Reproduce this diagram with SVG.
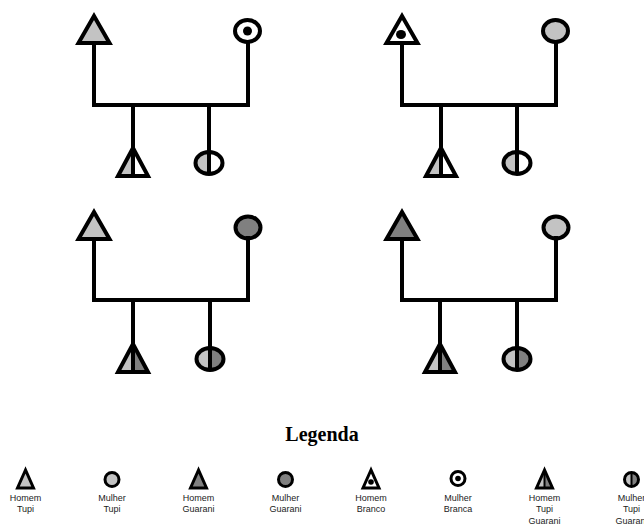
<svg xmlns="http://www.w3.org/2000/svg" width="644" height="525" viewBox="0 0 644 525">
  <style>
    .ln { stroke: #000; stroke-width: 4; fill: none; stroke-linecap: square; }
    .ol { stroke: #000; stroke-width: 4; fill: none; stroke-linejoin: miter; }
    .sol { stroke: #000; stroke-width: 3; fill: none; stroke-linejoin: miter; }
    .tupi { fill: #c3c3c3; }
    .guar { fill: #808080; }
    .wht { fill: #fff; }
    .blk { fill: #000; }
    .ttl { font-family: "Liberation Serif", "Times New Roman", serif; font-weight: bold; font-size: 20px; fill: #000; }
    .lbl { font-family: "Liberation Sans", Arial, sans-serif; font-size: 9px; fill: #222; text-anchor: middle; }
  </style>
  <defs>
    <!-- reusable outlines, centred on x=0 -->
    <polygon id="triBig" points="0,16 -15.5,43 15.5,43"/>
    <polygon id="triKidL" points="0,148 -15,176 0,176"/>
    <polygon id="triKidR" points="0,148 15,176 0,176"/>
    <polygon id="triKid" points="0,148 -15,176 15,176"/>
    <polygon id="triSm" points="0,470 -8,488 8,488"/>
    <polygon id="triSmL" points="0,470 -8,488 0,488"/>
    <polygon id="triSmR" points="0,470 8,488 0,488"/>
  </defs>

  <rect width="644" height="525" fill="#fff"/>

  <!-- Family 1: Homem Tupi + Mulher Branca -->
  <g id="f1-father">
    <use href="#triBig" x="94" class="tupi"/>
    <use href="#triBig" x="94" class="ol"/>
  </g>
  <g id="f1-mother">
    <ellipse cx="247.5" cy="31" rx="12.5" ry="11" class="wht"/>
    <ellipse cx="247.5" cy="31" rx="12.5" ry="11" class="ol"/>
    <circle cx="247.5" cy="31" r="4.5" class="blk"/>
  </g>
  <g id="f1-son">
    <use href="#triKidL" x="133" class="tupi"/>
    <use href="#triKidR" x="133" class="wht"/>
    <use href="#triKid" x="133" class="ol"/>
  </g>
  <g id="f1-daughter">
    <path d="M209,152 A13.5,11 0 0 0 209,174 Z" class="tupi"/>
    <path d="M209,152 A13.5,11 0 0 1 209,174 Z" class="wht"/>
    <ellipse cx="209" cy="163" rx="13.5" ry="11" class="ol"/>
  </g>

  <!-- Family 2: Homem Branco + Mulher Tupi -->
  <g id="f2-father">
    <use href="#triBig" x="402" class="wht"/>
    <use href="#triBig" x="402" class="ol"/>
    <ellipse cx="401" cy="34.5" rx="5" ry="4.5" class="blk"/>
  </g>
  <g id="f2-mother">
    <ellipse cx="555.5" cy="31" rx="12.5" ry="11" class="tupi"/>
    <ellipse cx="555.5" cy="31" rx="12.5" ry="11" class="ol"/>
  </g>
  <g id="f2-son">
    <use href="#triKidL" x="441" class="tupi"/>
    <use href="#triKidR" x="441" class="wht"/>
    <use href="#triKid" x="441" class="ol"/>
  </g>
  <g id="f2-daughter">
    <path d="M517,152 A13.5,11 0 0 0 517,174 Z" class="tupi"/>
    <path d="M517,152 A13.5,11 0 0 1 517,174 Z" class="wht"/>
    <ellipse cx="517" cy="163" rx="13.5" ry="11" class="ol"/>
  </g>

  <!-- Family 3: Homem Tupi + Mulher Guarani -->
  <g id="f3-father" transform="translate(0,196)">
    <use href="#triBig" x="94" class="tupi"/>
    <use href="#triBig" x="94" class="ol"/>
  </g>
  <g id="f3-mother" transform="translate(0,196)">
    <ellipse cx="248" cy="31.5" rx="12.5" ry="11" class="guar"/>
    <ellipse cx="248" cy="31.5" rx="12.5" ry="11" class="ol"/>
  </g>
  <g id="f3-son" transform="translate(0,196)">
    <use href="#triKidL" x="133" class="tupi"/>
    <use href="#triKidR" x="133" class="guar"/>
    <use href="#triKid" x="133" class="ol"/>
  </g>
  <g id="f3-daughter" transform="translate(0,196)">
    <path d="M210,152 A13.5,11 0 0 0 210,174 Z" class="tupi"/>
    <path d="M210,152 A13.5,11 0 0 1 210,174 Z" class="guar"/>
    <ellipse cx="210" cy="163" rx="13.5" ry="11" class="ol"/>
  </g>

  <!-- Family 4: Homem Guarani + Mulher Tupi -->
  <g id="f4-father" transform="translate(0,196)">
    <use href="#triBig" x="402" class="guar"/>
    <use href="#triBig" x="402" class="ol"/>
  </g>
  <g id="f4-mother" transform="translate(0,196)">
    <ellipse cx="556" cy="31.5" rx="12.5" ry="11" class="tupi"/>
    <ellipse cx="556" cy="31.5" rx="12.5" ry="11" class="ol"/>
  </g>
  <g id="f4-son" transform="translate(0,196)">
    <use href="#triKidL" x="440" class="tupi"/>
    <use href="#triKidR" x="440" class="guar"/>
    <use href="#triKid" x="440" class="ol"/>
  </g>
  <g id="f4-daughter" transform="translate(0,196)">
    <path d="M517,152 A13.5,11 0 0 0 517,174 Z" class="tupi"/>
    <path d="M517,152 A13.5,11 0 0 1 517,174 Z" class="guar"/>
    <ellipse cx="517" cy="163" rx="13.5" ry="11" class="ol"/>
  </g>

  <!-- Parent and child lines -->
  <g id="connectors" class="ln">
    <path d="M94,44 V105 H248 V42 M133,105 V175 M209,105 V173"/>
    <path d="M402,44 V105 H556 V42 M441,105 V175 M517,105 V173"/>
    <path d="M94,240 V300 H248 V238 M133,300 V371 M210,300 V369"/>
    <path d="M402,240 V300 H556 V238 M440,300 V371 M517,300 V369"/>
  </g>

  <!-- Legend -->
  <text x="322" y="441" class="ttl" text-anchor="middle">Legenda</text>

  <g id="leg-homem-tupi">
    <use href="#triSm" x="25.5" class="tupi"/>
    <use href="#triSm" x="25.5" class="sol"/>
    <text x="25.5" y="501" class="lbl">Homem</text>
    <text x="25.5" y="512" class="lbl">Tupi</text>
  </g>
  <g id="leg-mulher-tupi">
    <circle cx="112" cy="479.5" r="7" class="tupi"/>
    <circle cx="112" cy="479.5" r="7" class="sol"/>
    <text x="112" y="501" class="lbl">Mulher</text>
    <text x="112" y="512" class="lbl">Tupi</text>
  </g>
  <g id="leg-homem-guarani">
    <use href="#triSm" x="198.5" class="guar"/>
    <use href="#triSm" x="198.5" class="sol"/>
    <text x="198.5" y="501" class="lbl">Homem</text>
    <text x="198.5" y="512" class="lbl">Guarani</text>
  </g>
  <g id="leg-mulher-guarani">
    <circle cx="285.5" cy="479.5" r="7" class="guar"/>
    <circle cx="285.5" cy="479.5" r="7" class="sol"/>
    <text x="285.5" y="501" class="lbl">Mulher</text>
    <text x="285.5" y="512" class="lbl">Guarani</text>
  </g>
  <g id="leg-homem-branco">
    <use href="#triSm" x="371" class="wht"/>
    <use href="#triSm" x="371" class="sol"/>
    <circle cx="371" cy="482" r="2.8" class="blk"/>
    <text x="371" y="501" class="lbl">Homem</text>
    <text x="371" y="512" class="lbl">Branco</text>
  </g>
  <g id="leg-mulher-branca">
    <circle cx="458" cy="478.5" r="7" class="wht"/>
    <circle cx="458" cy="478.5" r="7" class="sol"/>
    <circle cx="458" cy="478.5" r="2.8" class="blk"/>
    <text x="458" y="501" class="lbl">Mulher</text>
    <text x="458" y="512" class="lbl">Branca</text>
  </g>
  <g id="leg-homem-tupi-guarani">
    <use href="#triSmL" x="544.5" class="tupi"/>
    <use href="#triSmR" x="544.5" class="guar"/>
    <use href="#triSm" x="544.5" class="sol"/>
    <line x1="544.5" y1="471" x2="544.5" y2="488" stroke="#000" stroke-width="2"/>
    <text x="544.5" y="501" class="lbl">Homem</text>
    <text x="544.5" y="512" class="lbl">Tupi</text>
    <text x="544.5" y="523.5" class="lbl">Guarani</text>
  </g>
  <g id="leg-mulher-tupi-guarani">
    <path d="M631.5,472.5 A7,7 0 0 0 631.5,486.5 Z" class="tupi"/>
    <path d="M631.5,472.5 A7,7 0 0 1 631.5,486.5 Z" class="guar"/>
    <circle cx="631.5" cy="479.5" r="7" class="sol"/>
    <line x1="631.5" y1="473" x2="631.5" y2="486" stroke="#000" stroke-width="2"/>
    <text x="631.5" y="501" class="lbl">Mulher</text>
    <text x="631.5" y="512" class="lbl">Tupi</text>
    <text x="631.5" y="523.5" class="lbl">Guarani</text>
  </g>
</svg>
